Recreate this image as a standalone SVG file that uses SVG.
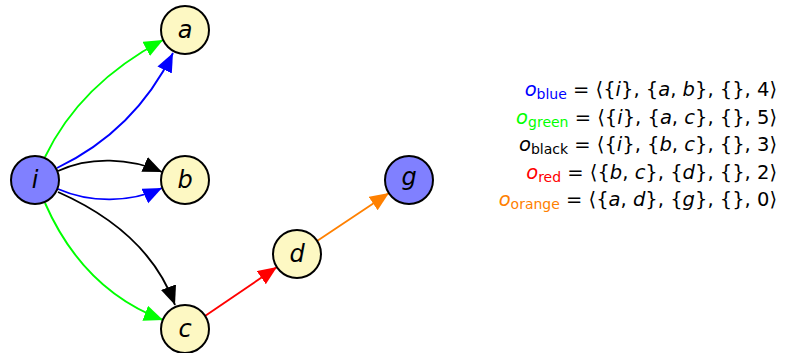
<svg xmlns="http://www.w3.org/2000/svg" width="785" height="353" viewBox="0 0 785 353">
<style>
.node{stroke:#000;stroke-width:2}
.y{fill:#fdf8c3}
.p{fill:#8080ff}
.lbl{font-family:"DejaVu Sans",sans-serif;font-style:italic;font-size:24px;text-anchor:middle;fill:#000}
.e{fill:none;stroke-width:1.9}
.f{font-family:"DejaVu Sans",sans-serif;font-size:19.5px;text-anchor:end;fill:#000}
.it{font-style:italic}
.sub{font-size:14px}
</style>
<defs>
<marker id="mk" markerUnits="userSpaceOnUse" markerWidth="22" markerHeight="18" refX="19" refY="8" orient="auto"><path d="M0,0 L19,8 L0,16 z" fill="#000"/></marker>
<marker id="mb" markerUnits="userSpaceOnUse" markerWidth="22" markerHeight="18" refX="19" refY="8" orient="auto"><path d="M0,0 L19,8 L0,16 z" fill="#0000ff"/></marker>
<marker id="mg" markerUnits="userSpaceOnUse" markerWidth="22" markerHeight="18" refX="19" refY="8" orient="auto"><path d="M0,0 L19,8 L0,16 z" fill="#00ff00"/></marker>
<marker id="mr" markerUnits="userSpaceOnUse" markerWidth="22" markerHeight="18" refX="19" refY="8" orient="auto"><path d="M0,0 L19,8 L0,16 z" fill="#ff0000"/></marker>
<marker id="mo" markerUnits="userSpaceOnUse" markerWidth="22" markerHeight="18" refX="19" refY="8" orient="auto"><path d="M0,0 L19,8 L0,16 z" fill="#ff8000"/></marker>
</defs>
<g id="connectors">
<path class="e" stroke="#00ff00" marker-end="url(#mg)" d="M45,157 C70,105 110,68 163,40"/>
<path class="e" stroke="#0000ff" marker-end="url(#mb)" d="M57,168 C105,145 145,110 173,53"/>
<path class="e" stroke="#000" marker-end="url(#mk)" d="M58,171 C90,156 130,158 162,172"/>
<path class="e" stroke="#0000ff" marker-end="url(#mb)" d="M58,189 C90,203 130,203 162,188"/>
<path class="e" stroke="#000" marker-end="url(#mk)" d="M58,192 C110,215 155,250 175,305"/>
<path class="e" stroke="#00ff00" marker-end="url(#mg)" d="M45,203 C70,260 110,300 163,320"/>
<path class="e" stroke="#ff0000" marker-end="url(#mr)" d="M205,316 L277,267"/>
<path class="e" stroke="#ff8000" marker-end="url(#mo)" d="M317,241 L389,193"/>
</g>
<g id="node-i"><circle class="node p" cx="35" cy="180" r="24"/><text class="lbl" x="35" y="188">i</text></g>
<g id="node-a"><circle class="node y" cx="185" cy="30" r="24"/><text class="lbl" x="185" y="38">a</text></g>
<g id="node-b"><circle class="node y" cx="185" cy="180" r="24"/><text class="lbl" x="185" y="188">b</text></g>
<g id="node-c"><circle class="node y" cx="185" cy="329" r="24"/><text class="lbl" x="185" y="337">c</text></g>
<g id="node-d"><circle class="node y" cx="297" cy="254" r="24"/><text class="lbl" x="297" y="262">d</text></g>
<g id="node-g"><circle class="node p" cx="409" cy="180" r="24"/><text class="lbl" x="409" y="185">g</text></g>
<g id="formulas">
<text class="f" x="777" y="96"><tspan class="it" fill="#0000ff">o</tspan><tspan class="sub" fill="#0000ff" dy="3">blue</tspan><tspan dy="-3"> = ⟨{</tspan><tspan class="it">i</tspan>}, {<tspan class="it">a</tspan>, <tspan class="it">b</tspan>}, {}, 4⟩</text>
<text class="f" x="777" y="123.5"><tspan class="it" fill="#00ff00">o</tspan><tspan class="sub" fill="#00ff00" dy="3">green</tspan><tspan dy="-3"> = ⟨{</tspan><tspan class="it">i</tspan>}, {<tspan class="it">a</tspan>, <tspan class="it">c</tspan>}, {}, 5⟩</text>
<text class="f" x="777" y="151"><tspan class="it">o</tspan><tspan class="sub" dy="3">black</tspan><tspan dy="-3"> = ⟨{</tspan><tspan class="it">i</tspan>}, {<tspan class="it">b</tspan>, <tspan class="it">c</tspan>}, {}, 3⟩</text>
<text class="f" x="777" y="178.5"><tspan class="it" fill="#ff0000">o</tspan><tspan class="sub" fill="#ff0000" dy="3">red</tspan><tspan dy="-3"> = ⟨{</tspan><tspan class="it">b</tspan>, <tspan class="it">c</tspan>}, {<tspan class="it">d</tspan>}, {}, 2⟩</text>
<text class="f" x="777" y="206"><tspan class="it" fill="#ff8000">o</tspan><tspan class="sub" fill="#ff8000" dy="3">orange</tspan><tspan dy="-3"> = ⟨{</tspan><tspan class="it">a</tspan>, <tspan class="it">d</tspan>}, {<tspan class="it">g</tspan>}, {}, 0⟩</text>
</g>
</svg>
